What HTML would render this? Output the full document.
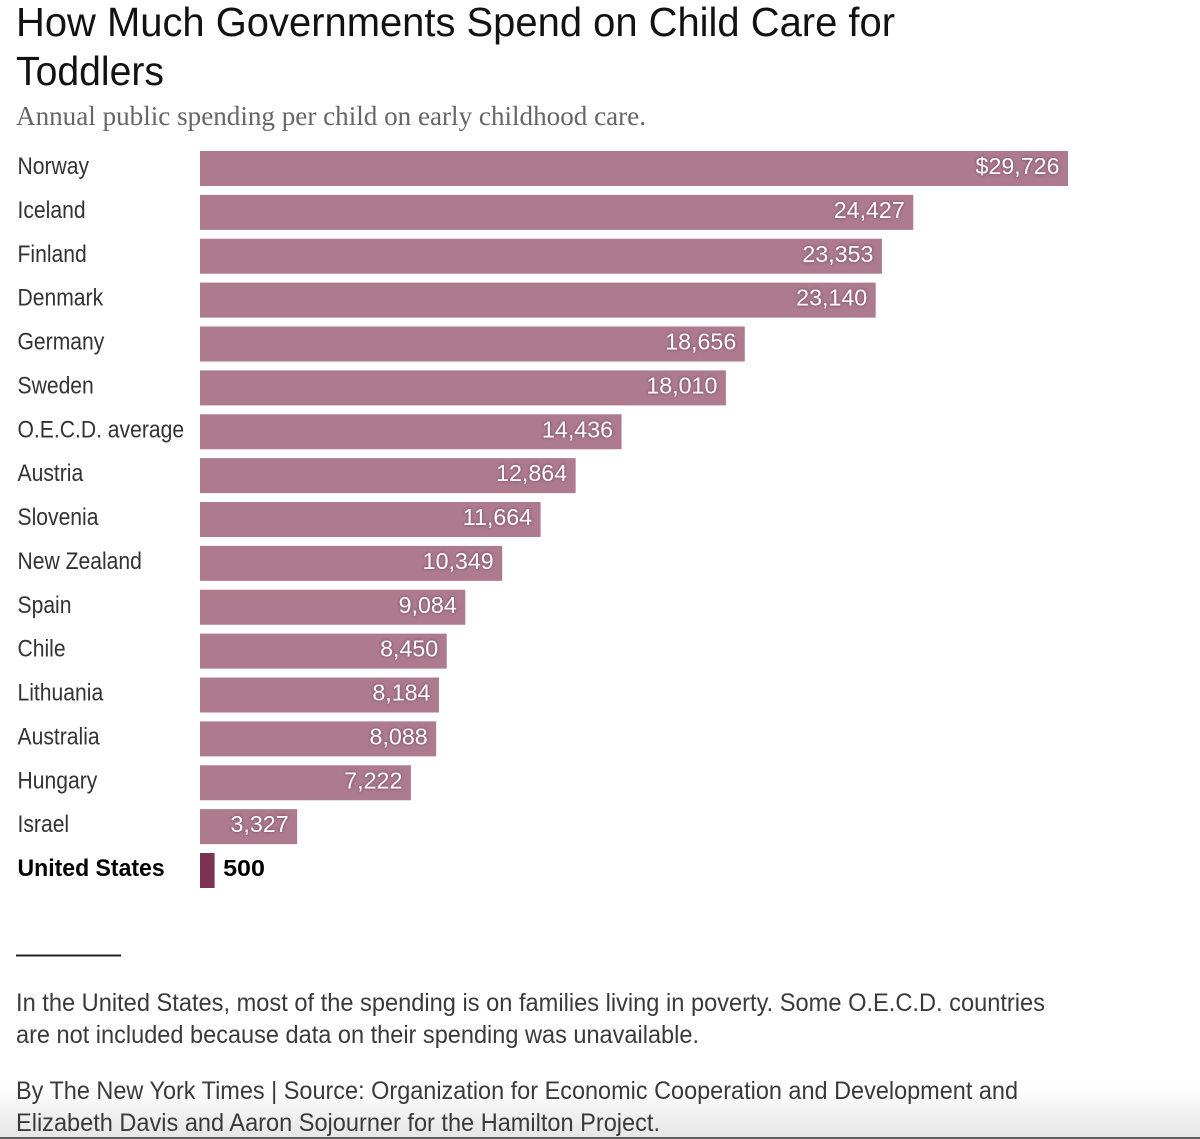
<!DOCTYPE html>
<html lang="en">
<head>
<meta charset="utf-8">
<title>How Much Governments Spend on Child Care for Toddlers</title>
<style>
html,body{margin:0;padding:0;background:#fff;}
svg{display:block;}
text{font-family:"Liberation Sans",sans-serif;}
.serif{font-family:"Liberation Serif",serif;}
.note{font-size:25px;fill:#3a3a3a;}
.val{text-shadow:0 0 3px rgba(60,20,40,.55);}
</style>
</head>
<body>
<svg id="chart" xmlns="http://www.w3.org/2000/svg" width="1200" height="1139" viewBox="0 0 1200 1139">
  <defs>
    <linearGradient id="fade" x1="0" y1="0" x2="0" y2="1">
      <stop offset="0" stop-color="#ffffff"/>
      <stop offset="1" stop-color="#e6e6e6"/>
    </linearGradient>
  </defs>
  <rect x="0" y="0" width="1200" height="1139" fill="#ffffff"/>
  <rect x="0" y="1085" width="1200" height="52" fill="url(#fade)"/>
  <rect x="0" y="1137" width="1200" height="2" fill="#5f5f5f"/>

  <text x="16" y="36" font-size="41" fill="#121212" textLength="879" lengthAdjust="spacingAndGlyphs">How Much Governments Spend on Child Care for</text>
  <text x="16" y="85" font-size="41" fill="#121212" textLength="148" lengthAdjust="spacingAndGlyphs">Toddlers</text>
  <text class="serif" x="16" y="125" font-size="27" fill="#666666" textLength="630" lengthAdjust="spacingAndGlyphs">Annual public spending per child on early childhood care.</text>

  <g id="rows"></g>

  <rect x="16" y="954.5" width="105" height="2" fill="#222222"/>
  <text class="note" x="16" y="1011" textLength="1029" lengthAdjust="spacingAndGlyphs">In the United States, most of the spending is on families living in poverty. Some O.E.C.D. countries</text>
  <text class="note" x="16" y="1043" textLength="683" lengthAdjust="spacingAndGlyphs">are not included because data on their spending was unavailable.</text>
  <text class="note" x="16" y="1099" textLength="1002" lengthAdjust="spacingAndGlyphs">By The New York Times | Source: Organization for Economic Cooperation and Development and</text>
  <text class="note" x="16" y="1131" textLength="644" lengthAdjust="spacingAndGlyphs">Elizabeth Davis and Aaron Sojourner for the Hamilton Project.</text>
</svg>
<script>
const categories = ["Norway","Iceland","Finland","Denmark","Germany","Sweden","O.E.C.D. average","Austria","Slovenia","New Zealand","Spain","Chile","Lithuania","Australia","Hungary","Israel","United States"];
const spending = [29726,24427,23353,23140,18656,18010,14436,12864,11664,10349,9084,8450,8184,8088,7222,3327,500];
const highlighted = ["United States"];

const SVG_NS = "http://www.w3.org/2000/svg";
const rows = document.getElementById("rows");
const domainMax = 29726;
const plotLeft = 200, plotWidth = 868;
const firstTop = 151, rowStep = 43.875, barHeight = 35;

function xScale(v) { return v / domainMax * plotWidth; }
function yScale(i) { return firstTop + i * rowStep; }
function kebab(s) { return s.toLowerCase().replace(/[^a-z]+/g, "-").replace(/-$/, ""); }

function makeText(content, x, y, cfg) {
  const t = document.createElementNS(SVG_NS, "text");
  t.textContent = content;
  t.setAttribute("transform", "translate(" + x + "," + y + ") scale(" + cfg.sx + ",1)");
  t.setAttribute("font-size", cfg.size);
  t.setAttribute("fill", cfg.fill);
  if (cfg.bold) t.setAttribute("font-weight", "700");
  if (cfg.anchor) t.setAttribute("text-anchor", cfg.anchor);
  if (cfg.cls) t.setAttribute("class", cfg.cls);
  return t;
}

categories.forEach(function (name, i) {
  const value = spending[i];
  const isHi = highlighted.indexOf(name) !== -1;
  const top = yScale(i);
  const w = xScale(value);
  const slug = kebab(name);

  const bar = document.createElementNS(SVG_NS, "rect");
  bar.setAttribute("x", plotLeft);
  bar.setAttribute("y", top);
  bar.setAttribute("width", w);
  bar.setAttribute("height", barHeight);
  bar.setAttribute("fill", isHi ? "#7c3353" : "#ae7b8e");
  
  
  rows.appendChild(bar);

  const label = makeText(name, 17.5, top + 23, { size: 24, fill: isHi ? "#000000" : "#333333", bold: isHi, sx: isHi ? 0.96 : 0.88 });
  
  
  rows.appendChild(label);

  const printed = (i === 0 ? "$" : "") + value.toLocaleString("en-US");
  const valueText = isHi
    ? makeText(printed, plotLeft + w + 8.5, top + 23, { size: 23, fill: "#000000", bold: true, sx: 1.09 })
    : makeText(printed, plotLeft + w - 8.5, top + 23, { size: 23, fill: "#ffffff", sx: 1.01, anchor: "end", cls: "val" });
  
  
  rows.appendChild(valueText);
});
</script>
</body>
</html>
